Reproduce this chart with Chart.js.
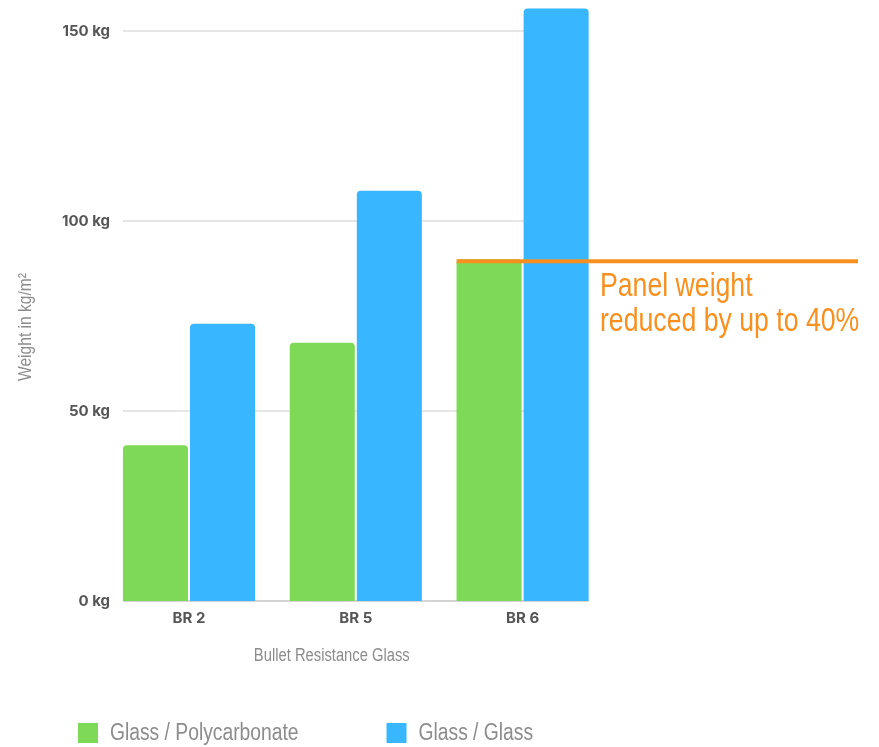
<html>
<head>
  <title>Bullet Resistance Glass weight</title>
  <script src="https://cdn.jsdelivr.net/npm/chart.js"></script>
  <style>
    body { margin: 0; background: #fff; }
  </style>
</head>
<body>
  <canvas id="myChart" width="879" height="747"></canvas>

  <script>
    // Data
    var categories = ["BR 2", "BR 5", "BR 6"];
    var glassPoly = [41, 68, 90];
    var glassGlass = [73, 108, 156];
    var seriesNames = ["Glass / Polycarbonate", "Glass / Glass"];
    var yTicks = [0, 50, 100, 150];
    var panelLineValue = 89.5;
    var noteLines = ["Panel weight", "reduced by up to 40%"];
    var xTitle = "Bullet Resistance Glass";
    var yTitle = "Weight in kg/m²";

    var sans = "'Liberation Sans', Arial, sans-serif";
    var bold = "700 15px Inter, 'DejaVu Sans', sans-serif";

    // condensed look: Liberation Sans squeezed horizontally
    function narrowText(ctx, text, x, y, size, align) {
      ctx.save();
      ctx.font = size + "px " + sans;
      ctx.textAlign = align || "left";
      ctx.translate(x, y);
      ctx.scale(0.82, 1);
      ctx.fillText(text, 0, 0);
      ctx.restore();
      ctx.font = size + "px " + sans;
      return ctx.measureText(text).width * 0.82;
    }

    // grid lines across the bars only, y tick labels, axis titles
    var axisPlugin = {
      id: "axisBits",
      beforeDatasetsDraw: function (chart) {
        var ctx = chart.ctx;
        var y = chart.scales.y;
        var area = chart.chartArea;
        var first = chart.getDatasetMeta(0).data[0];
        var lastMeta = chart.getDatasetMeta(1).data;
        var last = lastMeta[lastMeta.length - 1];
        var x0 = first.x - first.width / 2;
        var x1 = last.x + last.width / 2;
        ctx.save();
        yTicks.forEach(function (v) {
          var py = Math.round(y.getPixelForValue(v));
          ctx.fillStyle = v === 0 ? "#d4d4d4" : "#e6e6e6";
          ctx.fillRect(x0, py - 1, x1 - x0, 2);
          ctx.fillStyle = "#555";
          ctx.font = bold;
          ctx.textAlign = "right";
          ctx.textBaseline = "middle";
          ctx.fillText(v + " kg", area.left + 4.5, py);
        });

        ctx.fillStyle = "#8c8c8c";
        ctx.textBaseline = "middle";
        narrowText(ctx, xTitle, (area.left + area.right) / 2 - 24, area.bottom + 55, 18, "center");

        ctx.save();
        ctx.translate(26, (area.top + area.bottom) / 2 + 26);
        ctx.rotate(-Math.PI / 2);
        narrowText(ctx, yTitle, 0, 0, 19, "center");
        ctx.restore();
        ctx.restore();
      },
      // orange reference line, note and legend
      afterDatasetsDraw: function (chart) {
        var ctx = chart.ctx;
        var bar = chart.getDatasetMeta(0).data[2];
        var py = chart.scales.y.getPixelForValue(panelLineValue);
        ctx.save();
        ctx.strokeStyle = "#f7901e";
        ctx.lineWidth = 4;
        ctx.beginPath();
        ctx.moveTo(bar.x - bar.width / 2, py);
        ctx.lineTo(chart.width - 21, py);
        ctx.stroke();

        ctx.fillStyle = "#f7901e";
        ctx.textBaseline = "alphabetic";
        narrowText(ctx, noteLines[0], 600, py + 35, 32.5);
        narrowText(ctx, noteLines[1], 600, py + 70, 32.5);

        var lx = 78;
        var ly = chart.height - 13;
        ctx.textBaseline = "middle";
        chart.data.datasets.forEach(function (ds) {
          ctx.fillStyle = ds.backgroundColor;
          ctx.fillRect(lx, ly - 11, 20, 20);
          ctx.fillStyle = "#8c8c8c";
          var w = narrowText(ctx, ds.label, lx + 32, ly, 23.5);
          lx += 32 + w + 88;
        });
        ctx.restore();
      }
    };

    var ctx = document.getElementById("myChart").getContext("2d");
    var chart = new Chart(ctx, {
      type: "bar",
      data: {
        labels: categories,
        datasets: [
          {
            label: seriesNames[0],
            data: glassPoly,
            backgroundColor: "#7ed957",
            borderRadius: 4,
            categoryPercentage: 0.804,
            barPercentage: 0.97
          },
          {
            label: seriesNames[1],
            data: glassGlass,
            backgroundColor: "#38b6ff",
            borderRadius: 4,
            categoryPercentage: 0.804,
            barPercentage: 0.97
          }
        ]
      },
      options: {
        responsive: false,
        animation: false,
        layout: {
          padding: { top: 1, right: 273, bottom: 76, left: 0 }
        },
        plugins: {
          legend: { display: false },
          tooltip: { enabled: false }
        },
        scales: {
          x: {
            grid: { display: false, drawTicks: false },
            border: { display: false },
            ticks: {
              color: "#555",
              font: { family: "Inter, 'DejaVu Sans', sans-serif", weight: "700", size: 15 },
              padding: 8
            },
            afterFit: function (scale) { scale.height = 70; }
          },
          y: {
            min: 0,
            max: 158,
            grid: { display: false, drawTicks: false },
            border: { display: false },
            ticks: { display: false, stepSize: 50 },
            afterFit: function (scale) { scale.width = 105.6; }
          }
        }
      },
      plugins: [axisPlugin]
    });
  </script>
</body>
</html>
